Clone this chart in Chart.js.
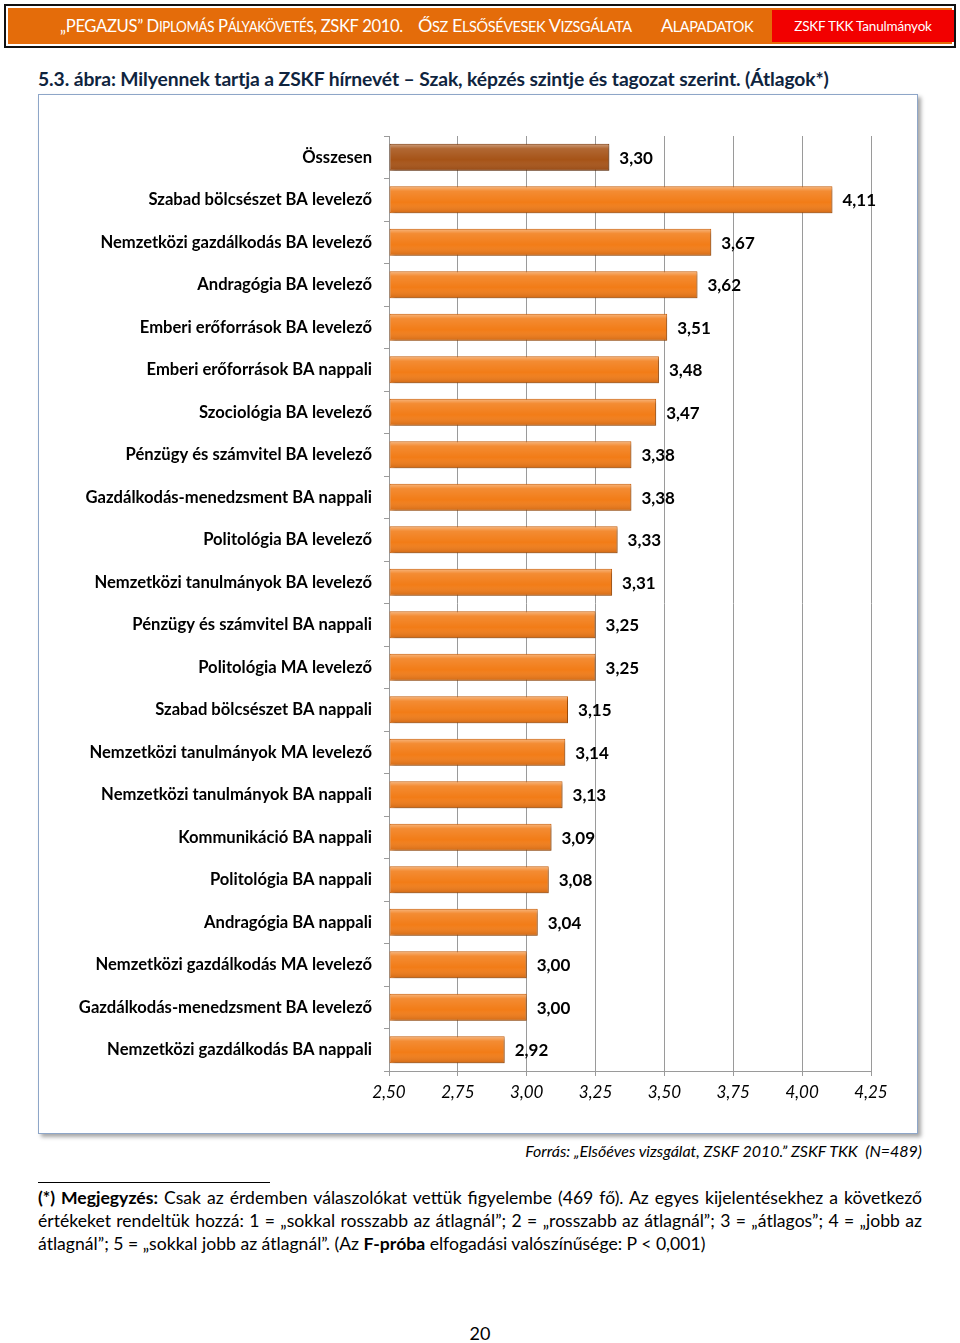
<!DOCTYPE html>
<html><head><meta charset="utf-8">
<script src="https://cdn.jsdelivr.net/npm/chart.js@4.4.0/dist/chart.umd.min.js"></script>
<style>
html,body{margin:0;padding:0;background:#fff;}
body{width:960px;height:1343px;position:relative;overflow:hidden;font-family:Lato,"Open Sans",sans-serif;color:#000;}
#hdr{position:absolute;left:4px;top:4px;width:948px;height:40px;border:2px solid #111;background:#E46C0A;box-shadow:inset 0 0 0 2px #fff;}
#hdr .t{position:absolute;top:8px;color:#fff;font-size:18px;white-space:nowrap;letter-spacing:-0.4px;}
#hdr .t small{font-size:14.5px;}
#hdr .r{position:absolute;left:766px;top:4px;width:182px;height:32px;background:#F20000;color:#fff;font-size:13.5px;line-height:32px;text-align:center;letter-spacing:-0.2px;}
#title{position:absolute;left:38px;top:67px;font-size:19.3px;font-weight:bold;color:#0F243E;white-space:nowrap;letter-spacing:-0.1px;}
#box{position:absolute;left:38px;top:94px;width:878px;height:1038px;border:1px solid #8EA6C8;box-shadow:3px 3px 4px rgba(0,0,0,0.35);background:#fff;}
#cv{position:absolute;left:0;top:0;}
#src{position:absolute;right:38px;top:1141px;font-size:16px;font-style:italic;white-space:nowrap;}
#rule{position:absolute;left:38px;top:1182px;width:232px;height:1px;background:#000;}
#note{position:absolute;left:38px;top:1186px;width:884px;font-size:17.6px;line-height:23px;text-align:justify;}
#pg{position:absolute;left:0;width:960px;top:1322px;text-align:center;font-size:18px;}
</style></head>
<body>
<div id="hdr"><span class="t" style="left:54px;transform:scaleX(0.925);transform-origin:0 50%">„PEGAZUS” D<small>IPLOMÁS</small> P<small>ÁLYAKÖVETÉS</small>, ZSKF 2010.</span><span class="t" style="left:412px">Ő<small>SZ</small> E<small>LSŐSÉVESEK</small> V<small>IZSGÁLATA</small></span><span class="t" style="left:655px">A<small>LAPADATOK</small></span><div class="r">ZSKF TKK Tanulmányok</div></div>
<div id="title">5.3. ábra: Milyennek tartja a ZSKF hírnevét – Szak, képzés szintje és tagozat szerint. (Átlagok*)</div>
<div id="box"><canvas id="cv" width="878" height="1038"></canvas></div>
<div id="src">Forrás: „Elsőéves vizsgálat, ZSKF 2010.” ZSKF TKK &nbsp;(N=489)</div>
<div id="rule"></div>
<div id="note"><b>(*) Megjegyzés:</b> Csak az érdemben válaszolókat vettük figyelembe (469 fő). Az egyes kijelentésekhez a következő értékeket rendeltük hozzá: 1 = „sokkal rosszabb az átlagnál”; 2 = „rosszabb az átlagnál”; 3 = „átlagos”; 4 = „jobb az átlagnál”; 5 = „sokkal jobb az átlagnál”. (Az <b>F-próba</b> elfogadási valószínűsége: P &lt; 0,001)</div>
<div id="pg">20</div>
<script>
const categories = [
 "Összesen",
 "Szabad bölcsészet BA levelező",
 "Nemzetközi gazdálkodás BA levelező",
 "Andragógia BA levelező",
 "Emberi erőforrások BA levelező",
 "Emberi erőforrások BA nappali",
 "Szociológia BA levelező",
 "Pénzügy és számvitel BA levelező",
 "Gazdálkodás-menedzsment BA nappali",
 "Politológia BA levelező",
 "Nemzetközi tanulmányok BA levelező",
 "Pénzügy és számvitel BA nappali",
 "Politológia MA levelező",
 "Szabad bölcsészet BA nappali",
 "Nemzetközi tanulmányok MA levelező",
 "Nemzetközi tanulmányok BA nappali",
 "Kommunikáció BA nappali",
 "Politológia BA nappali",
 "Andragógia BA nappali",
 "Nemzetközi gazdálkodás MA levelező",
 "Gazdálkodás-menedzsment BA levelező",
 "Nemzetközi gazdálkodás BA nappali"
];
const averages = [3.30,4.11,3.67,3.62,3.51,3.48,3.47,3.38,3.38,3.33,3.31,3.25,3.25,3.15,3.14,3.13,3.09,3.08,3.04,3.00,3.00,2.92];
const axisMin = 2.5, axisMax = 4.25, axisStep = 0.25;

const fmt = v => v.toFixed(2).replace('.', ',');

const barStyle = {
  id:'barStyle',
  beforeDatasetDraw(chart){
    const c = chart.ctx; c.save();
    c.shadowColor='rgba(0,0,0,0.35)'; c.shadowBlur=3; c.shadowOffsetX=2; c.shadowOffsetY=2;
  },
  afterDatasetDraw(chart){
    const c = chart.ctx; c.restore();
    const meta = chart.getDatasetMeta(0);
    c.save();
    meta.data.forEach((bar,i)=>{
      const p = bar.getProps(['x','y','base','height'], true);
      const top = p.y - p.height/2, h = p.height;
      const g = c.createLinearGradient(0, top, 0, top+h);
      g.addColorStop(0,'rgba(255,255,255,0.45)');
      g.addColorStop(0.18,'rgba(255,255,255,0.12)');
      g.addColorStop(0.6,'rgba(255,255,255,0)');
      g.addColorStop(1,'rgba(90,30,0,0.22)');
      c.fillStyle = g;
      c.fillRect(p.base+1, top+1, p.x-p.base-2, h-2);
      c.fillStyle='#000';
      c.font='bold 17px Lato, sans-serif';
      c.textBaseline='middle'; c.textAlign='left';
      c.fillText(fmt(averages[i]), p.x+10, p.y+1);
    });
    c.restore();
  }
};

new Chart(document.getElementById('cv'), {
  type:'bar',
  data:{labels:categories, datasets:[{
    data:averages,
    base:axisMin,
    backgroundColor:averages.map((v,i)=> i===0 ? '#A65317' : '#F27C17'),
    borderColor:averages.map((v,i)=> i===0 ? '#7A3A0E' : '#C9600C'),
    borderWidth:1,
    borderSkipped:false,
    categoryPercentage:0.8,
    barPercentage:0.79
  }]},
  options:{
    indexAxis:'y',
    responsive:false,
    animation:false,
    events:[],
    layout:{padding:{top:41,right:46,left:0,bottom:0}},
    plugins:{legend:{display:false},tooltip:{enabled:false}},
    scales:{
      x:{
        min:axisMin,max:axisMax,
        afterBuildTicks(s){ s.ticks=[]; for(let v=axisMin; v<=axisMax+1e-9; v+=axisStep) s.ticks.push({value:+v.toFixed(2)}); },
        afterFit(s){ s.height=62; },
        grid:{color:'#9A9A9A',lineWidth:1,tickLength:5,drawTicks:true},
        border:{color:'#9A9A9A'},
        ticks:{color:'#000',font:{family:'Lato',size:17,style:'italic'},padding:6,callback:v=>fmt(v),maxRotation:0}
      },
      y:{
        afterFit(s){ s.width=350; },
        grid:{drawOnChartArea:false,drawTicks:true,tickLength:5,color:'#9A9A9A',offset:true},
        border:{color:'#9A9A9A'},
        ticks:{color:'#000',font:{family:'Lato',size:16.6,weight:'bold'},padding:12,autoSkip:false}
      }
    }
  },
  plugins:[barStyle]
});
</script>
</body></html>
